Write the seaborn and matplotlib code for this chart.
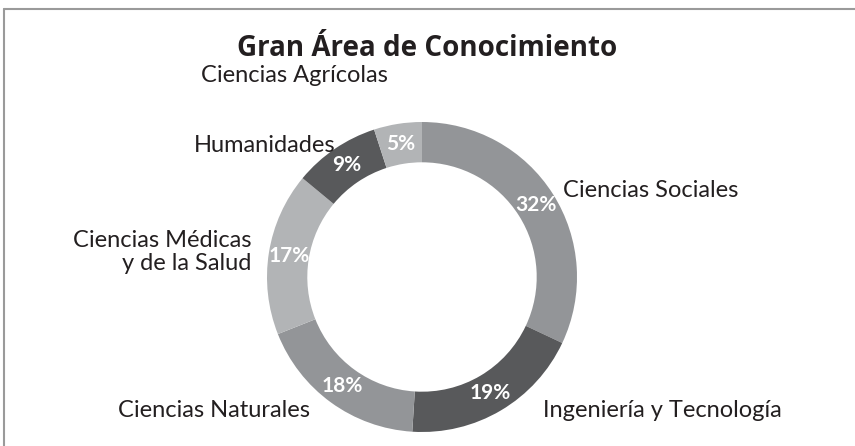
import matplotlib
matplotlib.use('Agg')
import matplotlib.pyplot as plt
from matplotlib.lines import Line2D
import seaborn as sns

areas = ['Ciencias Sociales', 'Ingeniería y Tecnología', 'Ciencias Naturales',
         'Ciencias Médicas\ny de la Salud', 'Humanidades', 'Ciencias Agrícolas']
shares = [32, 19, 18, 17, 9, 5]

colors = ['#939598', '#58595b', '#939598', '#b2b4b6', '#58595b', '#b2b4b6']
# where Excel put the outside labels (data units, radius = 1)
label_pos = [(0.91, 0.56), (0.78, -0.86), (-0.72, -0.86),
             (-1.10, 0.16), (-0.56, 0.85), (-0.22, 1.30)]
label_ha = ['left', 'left', 'right', 'right', 'right', 'right']

sns.set_theme(style='white')
plt.rcParams['font.family'] = ['Lato', 'DejaVu Sans']

W, H = 855, 446
cx, cy, R = 422, 169, 155  # pixels, from bottom-left

fig = plt.figure(figsize=(W / 100, H / 100), dpi=100)
ax = fig.add_axes([0, 0, 1, 1])

wedges, texts, autotexts = ax.pie(
    shares, colors=colors, startangle=90, counterclock=False,
    autopct='%d%%', pctdistance=0.87,
    wedgeprops=dict(width=0.26, linewidth=0),
    textprops=dict(color='white', fontsize=15, fontweight='bold'))

for name, (x, y), ha in zip(areas, label_pos, label_ha):
    ax.text(x, y, name, ha=ha, va='center', multialignment='right',
            fontsize=17, color='#231f20', linespacing=1.15)

ax.set_xlim(-cx / R, (W - cx) / R)
ax.set_ylim(-cy / R, (H - cy) / R)
ax.set_aspect('equal', adjustable='datalim')
ax.axis('off')

fig.text(0.5, 1 - 48 / H, 'Gran Área de Conocimiento', ha='center', va='center',
         fontsize=20, fontweight='bold', color='#231f20',
         family=['Open Sans', 'DejaVu Sans'])

# frame lines (top and left only, like the cropped source)
fig.add_artist(Line2D([4 / W, 1], [1 - 9 / H, 1 - 9 / H], transform=fig.transFigure,
                      color='#9a9a9a', linewidth=1.5))
fig.add_artist(Line2D([4 / W, 4 / W], [0, 1 - 9 / H], transform=fig.transFigure,
                      color='#9a9a9a', linewidth=1.5))

fig.savefig('out.png', dpi=100, facecolor='white')
